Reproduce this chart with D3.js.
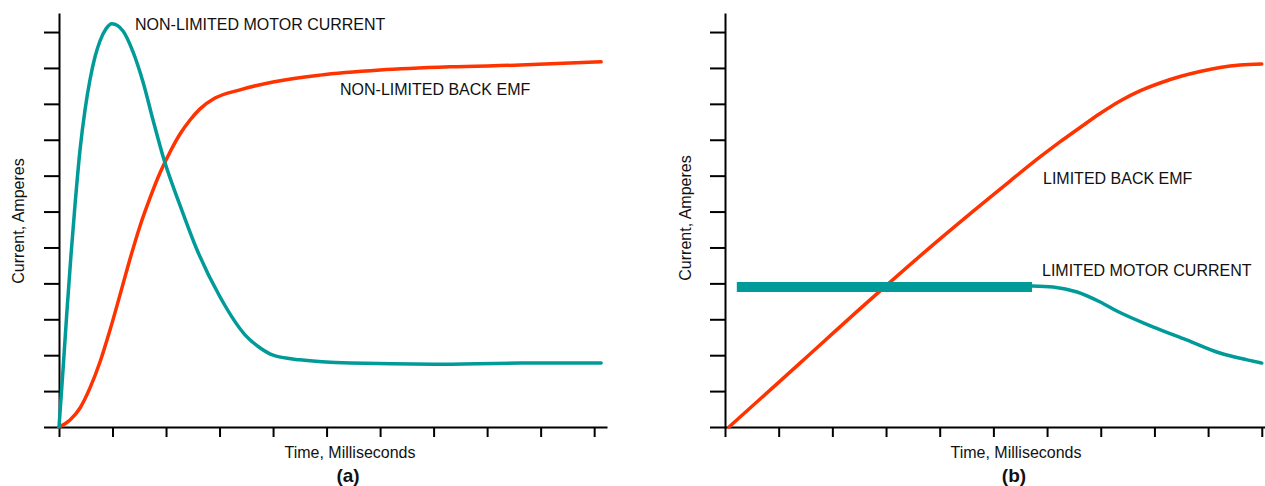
<!DOCTYPE html>
<html>
<head>
<meta charset="utf-8">
<script src="https://cdn.jsdelivr.net/npm/d3@7/dist/d3.min.js"></script>
<style>
  html, body { margin: 0; padding: 0; background: #fff; }
  svg { display: block; }
  text { font-family: "Liberation Sans", Arial, sans-serif; fill: #111; }
</style>
</head>
<body>
<svg id="chart" width="1265" height="486"></svg>
<script>
// Tick values (unlabelled grid positions on both axes)
const xTicks = [0, 1, 2, 3, 4, 5, 6, 7, 8, 9, 10];
const yTicks = [0, 1, 2, 3, 4, 5, 6, 7, 8, 9, 10, 11];

// Panel (a): non-limited start-up
const aMotorCurrent = [
  [0, 0], [0.075, 1.59], [0.15, 3.26], [0.224, 4.79], [0.299, 6.18], [0.393, 7.72],
  [0.486, 8.83], [0.579, 9.67], [0.673, 10.31], [0.766, 10.75], [0.879, 11.09],
  [0.99, 11.23], [1.196, 11.03], [1.383, 10.45],
  [1.57, 9.61], [1.757, 8.55], [1.963, 7.44], [2.26, 6.18], [2.58, 4.93],
  [3.01, 3.62], [3.48, 2.56], [3.76, 2.2], [4.0, 2.0], [4.5, 1.87], [5.44, 1.78],
  [7.0, 1.75], [8.62, 1.78], [10.13, 1.78]
];
const aBackEmf = [
  [0, 0], [0.206, 0.195], [0.393, 0.53], [0.579, 1.09], [0.766, 1.81], [0.953, 2.7],
  [1.14, 3.68], [1.327, 4.68], [1.514, 5.6], [1.701, 6.38], [1.888, 7.08],
  [2.075, 7.66], [2.262, 8.16], [2.449, 8.55], [2.636, 8.86], [2.916, 9.16],
  [3.383, 9.39], [4.0, 9.61], [4.879, 9.8], [6.0, 9.94], [7.308, 10.03],
  [8.617, 10.08], [10.13, 10.17]
];

// Panel (b): current-limited start-up
const bBackEmf = [
  [0.075, 0], [1.397, 1.78], [2.702, 3.54], [4.006, 5.24], [5.31, 6.85], [5.869, 7.52],
  [6.24, 7.94], [6.615, 8.34], [6.987, 8.73], [7.36, 9.08], [7.73, 9.36], [8.105, 9.58],
  [8.478, 9.76], [8.85, 9.9], [9.223, 10.01], [9.596, 10.08], [10.0, 10.11]
];
const bLimitPlateau = [[0.22, 3.9], [5.72, 3.9]];
const bMotorCurrent = [
  [5.72, 3.93], [6.11, 3.9], [6.56, 3.76], [6.99, 3.48], [7.3, 3.23], [7.97, 2.79],
  [8.61, 2.42], [9.22, 2.06], [9.73, 1.87], [10.0, 1.78]
];

const TEAL = "#009b99";
const RED = "#ff3300";

const svg = d3.select("#chart");

function panel(opts) {
  const g = svg.append("g");
  const x = d3.scaleLinear().domain([0, opts.xMax]).range([opts.x0, opts.x1]);
  const y = d3.scaleLinear().domain([0, 11.53]).range([427, 13]);

  const line = d3.line().x(d => x(d[0])).y(d => y(d[1])).curve(d3.curveMonotoneX);

  // axes
  const ax = g.append("g").attr("transform", "translate(0,427)")
    .call(d3.axisBottom(x).tickValues(xTicks).tickSize(10).tickSizeOuter(0).tickFormat(""));
  const ay = g.append("g").attr("transform", `translate(${opts.x0},0)`)
    .call(d3.axisLeft(y).tickValues(yTicks).tickSize(15).tickSizeOuter(0).tickFormat(""));
  [ax, ay].forEach(a => {
    a.selectAll("path.domain").attr("stroke", "#000").attr("stroke-width", 2);
    a.selectAll(".tick line").attr("stroke", "#000").attr("stroke-width", 2);
  });

  // curves
  opts.series.forEach(s => {
    g.append("path").datum(s.data)
      .attr("d", line)
      .attr("fill", "none")
      .attr("stroke", s.color)
      .attr("stroke-width", s.width)
      .attr("stroke-linecap", s.cap || "round")
      .attr("stroke-linejoin", "round");
  });

  // series labels
  opts.labels.forEach(l => {
    g.append("text").attr("x", l.x).attr("y", l.y)
      .attr("font-size", 16).text(l.text);
  });

  // axis titles
  const xc = opts.titleX;
  g.append("text").attr("x", xc).attr("y", 458).attr("text-anchor", "middle")
    .attr("font-size", 16).text("Time, Milliseconds");
  g.append("text").attr("x", xc - 2).attr("y", 482).attr("text-anchor", "middle")
    .attr("font-size", 19).attr("font-weight", "bold").text(opts.tag);
  g.append("text")
    .attr("transform", `translate(${opts.yTitleX},${opts.yTitleY}) rotate(-90)`)
    .attr("text-anchor", "middle").attr("font-size", 16).text("Current, Amperes");
}

panel({
  x0: 59, x1: 607, xMax: 10.24, titleX: 350, tag: "(a)", yTitleX: 24, yTitleY: 221,
  series: [
    { data: aBackEmf, color: RED, width: 3.5 },
    { data: aMotorCurrent, color: TEAL, width: 3.5 }
  ],
  labels: [
    { x: 135, y: 30, text: "NON-LIMITED MOTOR CURRENT" },
    { x: 340, y: 95, text: "NON-LIMITED BACK EMF" }
  ]
});

panel({
  x0: 725, x1: 1265, xMax: 10.06, titleX: 1016, tag: "(b)", yTitleX: 691, yTitleY: 218,
  series: [
    { data: bBackEmf, color: RED, width: 3.5 },
    { data: bMotorCurrent, color: TEAL, width: 3.5 },
    { data: bLimitPlateau, color: TEAL, width: 10, cap: "butt" }
  ],
  labels: [
    { x: 1043, y: 184, text: "LIMITED BACK EMF" },
    { x: 1042, y: 276, text: "LIMITED MOTOR CURRENT" }
  ]
});
</script>
</body>
</html>
